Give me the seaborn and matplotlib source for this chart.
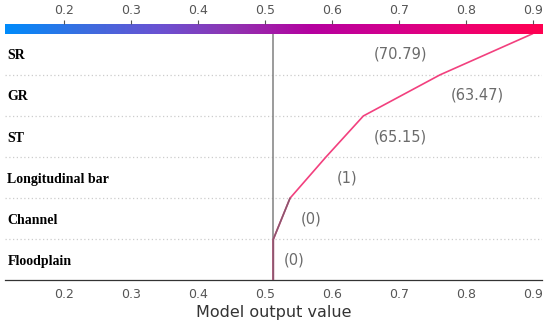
import numpy as np
import pandas as pd
import seaborn as sns
import matplotlib.pyplot as plt
from matplotlib.colors import LinearSegmentedColormap

# Features listed top to bottom, as in the decision plot
features = ["SR", "GR", "ST", "Longitudinal bar", "Channel", "Floodplain"]
feature_values = ["70.79", "63.47", "65.15", "1", "0", "0"]

# Model output after each feature is added, from the bottom (base value) upward
base_value = 0.5124
cum_output = [0.5124, 0.5124, 0.5374, 0.591, 0.647, 0.7616, 0.900]

x_ticks = [0.2, 0.3, 0.4, 0.5, 0.6, 0.7, 0.8, 0.9]
x_min, x_max = 0.111, 0.914

# shap-like red/blue colormap
cmap = LinearSegmentedColormap.from_list(
    "red_blue", ["#008bfb", "#3a6ee0", "#6a52d2", "#9132b0", "#b5009f", "#d2008e", "#ee0070", "#ff0051"])

sns.set_style("white")
plt.rcParams['font.family'] = ['DejaVu Sans']

fig = plt.figure(figsize=(5.5, 3.25), dpi=100)
ax = fig.add_axes([0.0085, 0.137, 0.977, 0.7593])
cax = fig.add_axes([0.0085, 0.8963, 0.977, 0.0289])

n = len(features)
df = pd.DataFrame({"output": cum_output, "pos": np.arange(n + 1)})

# dotted separators between rows
for y in range(1, n):
    ax.axhline(y, color="#cccccc", ls=(0, (1, 2)), lw=0.9, zorder=0)

ax.axvline(base_value, color="#808080", lw=1.1, zorder=1)

sns.lineplot(data=df, x="output", y="pos", sort=False, estimator=None,
             color="#f2407e", lw=1.2, ax=ax, zorder=3)
# lower part of the path looks darker in the reference
sns.lineplot(data=df.iloc[:3], x="output", y="pos", sort=False, estimator=None,
             color="#8c5870", lw=1.2, ax=ax, zorder=4)

# feature values next to each segment
for i in range(n):
    row = n - 1 - i  # index into features (top to bottom)
    lo, hi = sorted([cum_output[i], cum_output[i + 1]])
    label = "(" + feature_values[row] + ")"
    if hi + 0.12 < x_max:
        ax.annotate(label, (hi, i + 0.5), xytext=(7.5, 0), textcoords="offset points",
                    ha="left", va="center", color="#6b6b6b", fontsize=10.5)
    else:
        ax.annotate(label, (lo, i + 0.5), xytext=(-9, 0), textcoords="offset points",
                    ha="right", va="center", color="#6b6b6b", fontsize=10.5)

ax.set_xlim(x_min, x_max)
ax.set_ylim(0, n)
ax.set_xticks(x_ticks)
ax.set_xticklabels([f"{t:.1f}" for t in x_ticks])
ax.set_yticks(np.arange(n) + 0.5)
ax.set_yticklabels(features[::-1])
for lbl in ax.get_yticklabels():
    lbl.set_ha("left")
    lbl.set_family("Liberation Serif")
    lbl.set_weight("bold")
    lbl.set_fontsize(10)
    lbl.set_color("black")
ax.tick_params(axis="y", length=0, pad=-2)
ax.tick_params(axis="x", length=3.5, width=0.8, color="#333333", labelsize=9, labelcolor="#555555", pad=2)
for s in ["top", "right", "left"]:
    ax.spines[s].set_visible(False)
ax.spines["bottom"].set_color("#333333")
ax.spines["bottom"].set_linewidth(0.9)
ax.set_xlabel("Model output value", fontsize=11.5, color="#333333", labelpad=3)
ax.set_ylabel("")

# colour bar on top, spanning the x range
cax.imshow(np.linspace(0, 1, 512)[None, :], aspect="auto", cmap=cmap,
           extent=[x_min, x_max, 0, 1])
cax.set_xlim(x_min, x_max)
cax.set_xticks(x_ticks)
cax.set_xticklabels([f"{t:.1f}" for t in x_ticks])
cax.xaxis.set_ticks_position("top")
cax.tick_params(axis="x", length=3, width=0.8, color="#555555", labelsize=9, labelcolor="#555555", pad=2)
cax.set_yticks([])
for s in cax.spines.values():
    s.set_visible(False)

fig.savefig("out.png", dpi=100)
